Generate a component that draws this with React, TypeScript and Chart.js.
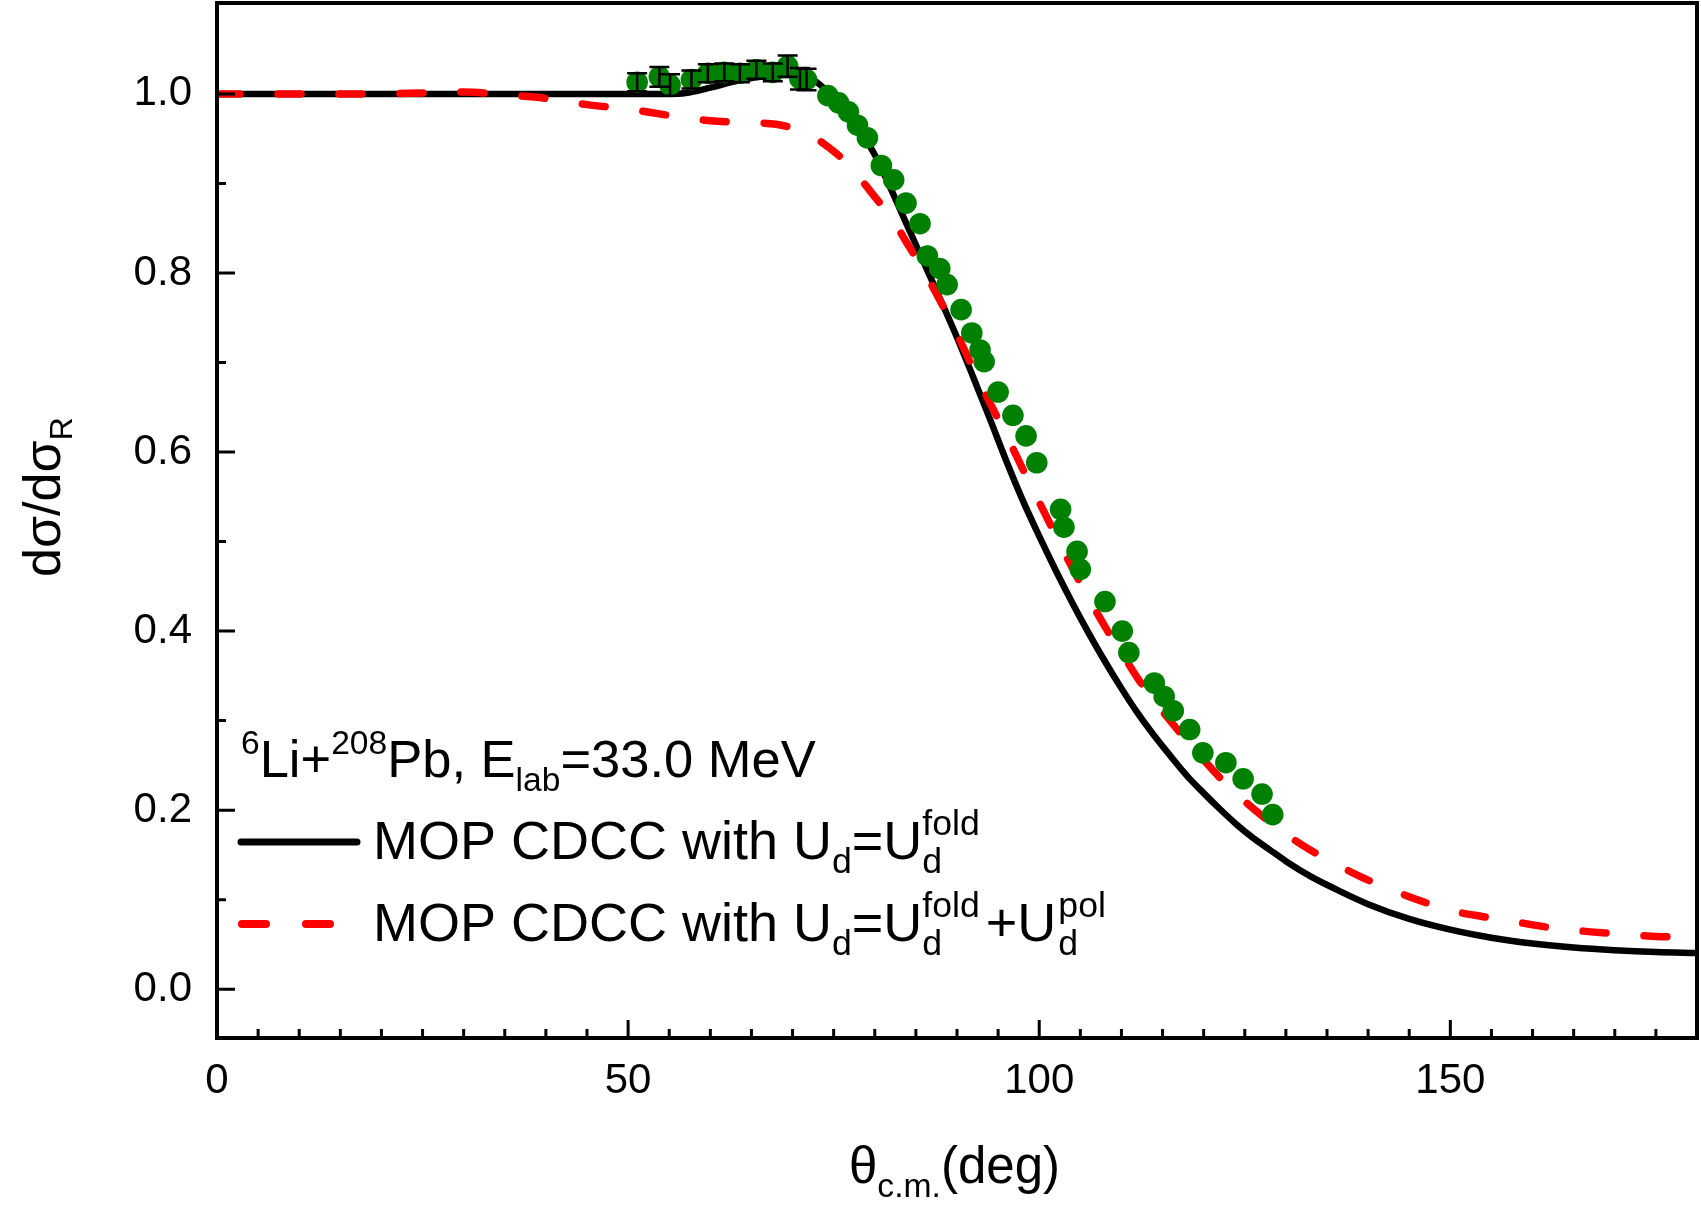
import React, { useEffect, useRef } from "react";
import { Chart, registerables } from "chart.js";

Chart.register(...registerables);

// ---- Data ----
const thetaFold = [0, 10, 20, 30, 40, 50, 55, 57, 60, 63, 66, 69, 72, 74, 76, 78, 80, 82, 84, 86, 88, 90, 92, 94, 96, 98, 100, 102, 104, 106, 108, 110, 112, 114, 116, 118, 120, 122, 124, 126, 128, 130, 133, 136, 140, 145, 150, 155, 160, 165, 170, 175, 180];
const sigmaFold = [1.0, 1.0, 1.0, 1.0, 1.0, 1.0, 1.0, 1.001, 1.007, 1.014, 1.019, 1.021, 1.018, 1.005, 0.985, 0.962, 0.932, 0.893, 0.852, 0.811, 0.77, 0.728, 0.683, 0.637, 0.59, 0.546, 0.506, 0.468, 0.432, 0.398, 0.366, 0.336, 0.308, 0.283, 0.26, 0.238, 0.219, 0.201, 0.184, 0.169, 0.156, 0.143, 0.126, 0.112, 0.095, 0.0785, 0.0665, 0.0575, 0.051, 0.0465, 0.0435, 0.0415, 0.0405];

const thetaPol = [0, 10, 20, 25, 30, 35, 40, 45, 50, 55, 60, 65, 68, 70, 72, 74, 76, 78, 80, 82, 84, 86, 88, 90, 92, 94, 96, 98, 100, 102, 104, 106, 108, 110, 112, 114, 116, 118, 120, 122, 124, 126, 128, 130, 132, 134, 136, 139, 142, 146, 150, 154, 158, 162, 166, 170, 175, 180];
const sigmaPol = [1.0, 1.0, 1.0, 1.001, 1.002, 0.999, 0.995, 0.988, 0.983, 0.976, 0.97, 0.968, 0.966, 0.962, 0.955, 0.943, 0.928, 0.908, 0.885, 0.862, 0.832, 0.802, 0.768, 0.732, 0.692, 0.655, 0.619, 0.581, 0.544, 0.507, 0.471, 0.437, 0.405, 0.376, 0.347, 0.322, 0.299, 0.277, 0.256, 0.236, 0.218, 0.202, 0.187, 0.173, 0.161, 0.15, 0.14, 0.126, 0.114, 0.1, 0.088, 0.081, 0.075, 0.069, 0.065, 0.062, 0.059, 0.058];

const thetaExp = [51.1, 53.8, 55.1, 57.7, 59.7, 61.7, 63.6, 65.6, 67.6, 69.4, 70.9, 71.7, 74.3, 75.6, 76.8, 77.9, 79.1, 80.8, 82.3, 83.8, 85.5, 86.4, 87.9, 88.8, 90.5, 91.8, 92.8, 93.3, 95.0, 96.8, 98.4, 99.7, 102.6, 103.0, 104.6, 105.0, 108.0, 110.1, 110.9, 114.0, 115.2, 116.3, 118.3, 119.9, 122.7, 124.8, 127.1, 128.4];
const sigmaExp = [1.013, 1.019, 1.01, 1.016, 1.023, 1.024, 1.023, 1.027, 1.024, 1.031, 1.017, 1.016, 0.998, 0.99, 0.98, 0.965, 0.951, 0.92, 0.904, 0.878, 0.855, 0.819, 0.805, 0.787, 0.759, 0.733, 0.714, 0.701, 0.667, 0.641, 0.618, 0.588, 0.536, 0.516, 0.489, 0.469, 0.433, 0.4, 0.376, 0.342, 0.327, 0.311, 0.29, 0.264, 0.253, 0.235, 0.218, 0.195];
const errExp = [0.01, 0.011, 0.012, 0.01, 0.01, 0.01, 0.01, 0.01, 0.01, 0.012, 0.012, 0.012, 0, 0, 0, 0, 0, 0, 0, 0, 0, 0, 0, 0, 0, 0, 0, 0, 0, 0, 0, 0, 0, 0, 0, 0, 0, 0, 0, 0, 0, 0, 0, 0, 0, 0, 0, 0];

const xTicks = [0, 50, 100, 150];
const yTicks = [0.0, 0.2, 0.4, 0.6, 0.8, 1.0];
const xMinorStep = 5;
const yMinorStep = 0.1;
const X_MIN = 0;
const X_MAX = 180;
const Y_MIN = -0.0545;
const Y_MAX = 1.1015;

const FONT = '"Liberation Sans", Arial, Helvetica, sans-serif';

type Seg = { k: "n" | "sub" | "sup" | "subsup"; t: string; t2?: string; gap?: number };

function drawRich(ctx: CanvasRenderingContext2D, x: number, y: number, segs: Seg[], size: number, small = 0.64, subOff = 0.26, supOff = 0.44) {
  let cx = x;
  ctx.textBaseline = "alphabetic";
  ctx.textAlign = "left";
  const sSize = size * small;
  for (const s of segs) {
    if (s.k === "n") {
      ctx.font = `${size}px ${FONT}`;
      ctx.fillText(s.t, cx, y);
      cx += ctx.measureText(s.t).width;
    } else if (s.k === "sub") {
      ctx.font = `${sSize}px ${FONT}`;
      ctx.fillText(s.t, cx, y + size * subOff);
      cx += ctx.measureText(s.t).width;
    } else if (s.k === "sup") {
      ctx.font = `${sSize}px ${FONT}`;
      ctx.fillText(s.t, cx, y - size * supOff);
      cx += ctx.measureText(s.t).width;
    } else {
      ctx.font = `${sSize}px ${FONT}`;
      ctx.fillText(s.t, cx, y + size * subOff);
      const w1 = ctx.measureText(s.t).width;
      ctx.fillText(s.t2 || "", cx, y - size * supOff);
      const w2 = ctx.measureText(s.t2 || "").width;
      cx += Math.max(w1, w2);
    }
    cx += s.gap || 0;
  }
  return cx;
}

const decorPlugin = {
  id: "decor",
  afterDatasetsDraw(chart: any) {
    const ctx: CanvasRenderingContext2D = chart.ctx;
    const xs = chart.scales.x;
    const ys = chart.scales.y;
    const { left, right, top, bottom } = chart.chartArea;
    ctx.save();

    // error bars
    ctx.strokeStyle = "#000";
    ctx.lineWidth = 2.5;
    for (let i = 0; i < thetaExp.length; i++) {
      const e = errExp[i];
      if (!e) continue;
      const px = xs.getPixelForValue(thetaExp[i]);
      const p1 = ys.getPixelForValue(sigmaExp[i] + e);
      const p2 = ys.getPixelForValue(sigmaExp[i] - e);
      ctx.beginPath();
      ctx.moveTo(px, p1);
      ctx.lineTo(px, p2);
      ctx.moveTo(px - 10, p1);
      ctx.lineTo(px + 10, p1);
      ctx.moveTo(px - 10, p2);
      ctx.lineTo(px + 10, p2);
      ctx.stroke();
    }

    // ticks (inward)
    ctx.lineWidth = 3;
    ctx.beginPath();
    for (const v of yTicks) {
      const py = ys.getPixelForValue(v);
      ctx.moveTo(left, py);
      ctx.lineTo(left + 18, py);
    }
    for (let k = Math.ceil(Y_MIN / yMinorStep); k * yMinorStep < Y_MAX - 0.01; k++) {
      if (k % 2 === 0) continue;
      const py = ys.getPixelForValue(k * yMinorStep);
      ctx.moveTo(left, py);
      ctx.lineTo(left + 9, py);
    }
    for (const v of xTicks) {
      const px = xs.getPixelForValue(v);
      ctx.moveTo(px, bottom);
      ctx.lineTo(px, bottom - 18);
    }
    for (let k = 1; k * xMinorStep < X_MAX; k++) {
      const v = k * xMinorStep;
      if (v % 50 === 0) continue;
      const px = xs.getPixelForValue(v);
      ctx.moveTo(px, bottom);
      ctx.lineTo(px, bottom - 9);
    }
    ctx.stroke();

    // frame
    ctx.lineWidth = 4;
    ctx.strokeRect(left, top, right - left, bottom - top);

    // axis titles
    ctx.fillStyle = "#000";
    drawRich(ctx, 849, 1183, [
      { k: "n", t: "θ" },
      { k: "sub", t: "c.m." },
      { k: "n", t: "(deg)" },
    ], 51, 0.66, 0.27);

    ctx.save();
    ctx.translate(60, 577);
    ctx.rotate(-Math.PI / 2);
    drawRich(ctx, 0, 0, [
      { k: "n", t: "dσ/dσ" },
      { k: "sub", t: "R" },
    ], 52, 0.62, 0.24);
    ctx.restore();

    // annotation
    drawRich(ctx, 241, 777, [
      { k: "sup", t: "6" },
      { k: "n", t: "Li+" },
      { k: "sup", t: "208" },
      { k: "n", t: "Pb, E" },
      { k: "sub", t: "lab" },
      { k: "n", t: "=33.0 MeV" },
    ], 52.5);

    // legend
    ctx.strokeStyle = "#000";
    ctx.lineWidth = 7;
    ctx.lineCap = "round";
    ctx.beginPath();
    ctx.moveTo(241, 842);
    ctx.lineTo(357, 842);
    ctx.stroke();
    drawRich(ctx, 373, 859, [
      { k: "n", t: "MOP CDCC with U" },
      { k: "sub", t: "d" },
      { k: "n", t: "=U" },
      { k: "subsup", t: "d", t2: "fold" },
    ], 54, 0.66);

    ctx.strokeStyle = "#ff0000";
    ctx.lineWidth = 8;
    ctx.setLineDash([24, 40]);
    ctx.beginPath();
    ctx.moveTo(242, 924);
    ctx.lineTo(357, 924);
    ctx.stroke();
    ctx.setLineDash([]);
    drawRich(ctx, 373, 941, [
      { k: "n", t: "MOP CDCC with U" },
      { k: "sub", t: "d" },
      { k: "n", t: "=U" },
      { k: "subsup", t: "d", t2: "fold", gap: 6 },
      { k: "n", t: "+U", gap: 2 },
      { k: "subsup", t: "d", t2: "pol" },
    ], 54, 0.66);

    ctx.restore();
  },
};

export default function App() {
  const ref = useRef<HTMLCanvasElement | null>(null);
  useEffect(() => {
    if (!ref.current) return;
    const chart = new Chart(ref.current, {
      type: "scatter",
      data: {
        datasets: [
          {
            label: "exp",
            data: thetaExp.map((x, i) => ({ x, y: sigmaExp[i] })),
            backgroundColor: "#008000",
            borderColor: "#008000",
            borderWidth: 0,
            pointRadius: 10.8,
            showLine: false,
            order: 0,
          },
          {
            label: "pol",
            data: thetaPol.map((x, i) => ({ x, y: sigmaPol[i] })),
            showLine: true,
            borderColor: "#ff0000",
            borderWidth: 7.5,
            borderDash: [23, 38],
            borderCapStyle: "round",
            pointRadius: 0,
            cubicInterpolationMode: "monotone",
            order: 1,
          } as any,
          {
            label: "fold",
            data: thetaFold.map((x, i) => ({ x, y: sigmaFold[i] })),
            showLine: true,
            borderColor: "#000000",
            borderWidth: 6.5,
            pointRadius: 0,
            cubicInterpolationMode: "monotone",
            order: 2,
          } as any,
        ],
      },
      options: {
        animation: false,
        responsive: false,
        devicePixelRatio: 1,
        layout: { autoPadding: false, padding: { top: 3, right: 4, left: 0, bottom: 0 } },
        plugins: { legend: { display: false }, tooltip: { enabled: false } },
        scales: {
          x: {
            type: "linear",
            min: X_MIN,
            max: X_MAX,
            afterBuildTicks: (s: any) => {
              s.ticks = xTicks.map((v) => ({ value: v }));
            },
            afterFit: (s: any) => {
              s.height = 168;
              s.paddingLeft = 0;
              s.paddingRight = 0;
            },
            ticks: {
              autoSkip: false,
              maxRotation: 0,
              padding: 18,
              color: "#000",
              font: { family: FONT, size: 42 },
              callback: (v: any) => String(v),
            },
            grid: { display: false, drawTicks: false },
            border: { display: false },
          },
          y: {
            type: "linear",
            min: Y_MIN,
            max: Y_MAX,
            afterBuildTicks: (s: any) => {
              s.ticks = yTicks.map((v) => ({ value: v }));
            },
            afterFit: (s: any) => {
              s.width = 217;
              s.paddingTop = 0;
              s.paddingBottom = 0;
            },
            ticks: {
              autoSkip: false,
              padding: 25,
              color: "#000",
              font: { family: FONT, size: 42 },
              callback: (v: any) => Number(v).toFixed(1),
            },
            grid: { display: false, drawTicks: false },
            border: { display: false },
          },
        },
      } as any,
      plugins: [decorPlugin],
    });
    return () => chart.destroy();
  }, []);
  return (
    <div style={{ position: "absolute", left: 0, top: 0, width: 1701, height: 1206, background: "#fff" }}>
      <canvas ref={ref} width={1701} height={1206} style={{ width: 1701, height: 1206, display: "block" }} />
    </div>
  );
}
